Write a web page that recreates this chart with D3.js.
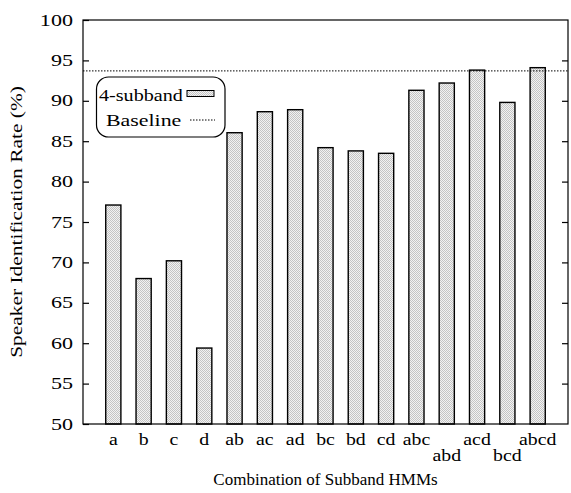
<!DOCTYPE html>
<html><head><meta charset="utf-8">
<script src="https://cdn.jsdelivr.net/npm/d3@7"></script>
<style>body{margin:0;background:#fff}svg{display:block}text{font-family:"Liberation Serif","Times New Roman",serif;fill:#000}</style>
</head><body>
<script>
const categories = ["a","b","c","d","ab","ac","ad","bc","bd","cd","abc","abd","acd","bcd","abcd"];
const values = [77.1,68.0,70.2,59.4,86.05,88.65,88.9,84.2,83.8,83.5,91.3,92.2,93.8,89.8,94.1];
const baseline = 93.7;
const yTicks = [50,55,60,65,70,75,80,85,90,95,100];
const seriesName = "4-subband", baselineName = "Baseline";

const W=571,H=493, L=83,R=568,T=20,B=424;
const svg=d3.select("body").append("svg").attr("width",W).attr("height",H);
const defs=svg.append("defs");
const pat=defs.append("pattern").attr("id","chk").attr("patternUnits","userSpaceOnUse").attr("width",2).attr("height",2);
pat.append("rect").attr("width",2).attr("height",2).attr("fill","#f2f2f2");
pat.append("rect").attr("x",0).attr("y",0).attr("width",1).attr("height",1).attr("fill","#c4c4c4");
pat.append("rect").attr("x",1).attr("y",1).attr("width",1).attr("height",1).attr("fill","#c4c4c4");

const x=d3.scaleLinear().domain([0,categories.length+1]).range([L,R]);
const y=d3.scaleLinear().domain([50,100]).range([B,T]);
const bw=(x(1)-x(0))*0.5;

// bars
svg.append("g").selectAll("rect").data(values).join("rect")
 .attr("x",(d,i)=>x(i+1)-bw/2).attr("y",d=>y(d)).attr("width",bw).attr("height",d=>y(50)-y(d))
 .attr("fill","url(#chk)").attr("stroke","#000").attr("stroke-width",1.4);

// baseline
svg.append("line").attr("x1",L).attr("x2",R).attr("y1",y(baseline)).attr("y2",y(baseline))
 .attr("stroke","#000").attr("stroke-width",1).attr("stroke-dasharray","1.5,1.5");

// frame
svg.append("rect").attr("x",L).attr("y",T).attr("width",R-L).attr("height",B-T).attr("fill","none").attr("stroke","#000").attr("stroke-width",1.2);

// y axis
const ya=d3.axisLeft(y).tickValues(yTicks).tickSize(-6).tickFormat("");
const gy=svg.append("g").attr("transform",`translate(${L},0)`).call(ya);
gy.select(".domain").remove();
gy.selectAll("line").attr("stroke","#000").attr("stroke-width",1.2);
svg.append("g").selectAll("text").data(yTicks).join("text")
 .attr("transform",d=>`translate(${L-10},${y(d)}) scale(1.3,1)`)
 .attr("dy","0.33em").attr("text-anchor","end").attr("font-size",17).text(d=>d);
const ya2=d3.axisRight(y).tickValues(yTicks.slice(1,-1)).tickSize(-6).tickFormat("");
const gy2=svg.append("g").attr("transform",`translate(${R},0)`).call(ya2);
gy2.select(".domain").remove();
gy2.selectAll("line").attr("stroke","#000").attr("stroke-width",1.2);

// x labels
svg.append("g").selectAll("text").data(categories).join("text")
 .attr("transform",(d,i)=>`translate(${x(i+1)},${(i>=10 && i%2===1)?461:445}) scale(1.2,1)`)
 .attr("text-anchor","middle").attr("font-size",16.5).text(d=>d);

// titles
svg.append("text").attr("x",(L+R)/2).attr("y",485).attr("text-anchor","middle").attr("font-size",17).text("Combination of Subband HMMs");
svg.append("text").attr("transform",`translate(22,${(T+B)/2}) rotate(-90) scale(1.26,1)`).attr("text-anchor","middle").attr("font-size",17).text("Speaker Identification Rate (%)");

// legend
const lg=svg.append("g");
lg.append("rect").attr("x",96.5).attr("y",77).attr("width",128.5).attr("height",60).attr("rx",12).attr("fill","#fff").attr("stroke","#000").attr("stroke-width",1.2);
lg.append("text").attr("transform","translate(99,101) scale(1.15,1)").attr("font-size",17.5).text(seriesName);
lg.append("rect").attr("x",187).attr("y",90.5).attr("width",27).attr("height",6).attr("fill","url(#chk)").attr("stroke","#000").attr("stroke-width",1);
lg.append("text").attr("transform","translate(106,126) scale(1.25,1)").attr("font-size",17.5).text(baselineName);
lg.append("line").attr("x1",190).attr("x2",215).attr("y1",120).attr("y2",120).attr("stroke","#000").attr("stroke-dasharray","1.5,1.5");
</script>
</body></html>
